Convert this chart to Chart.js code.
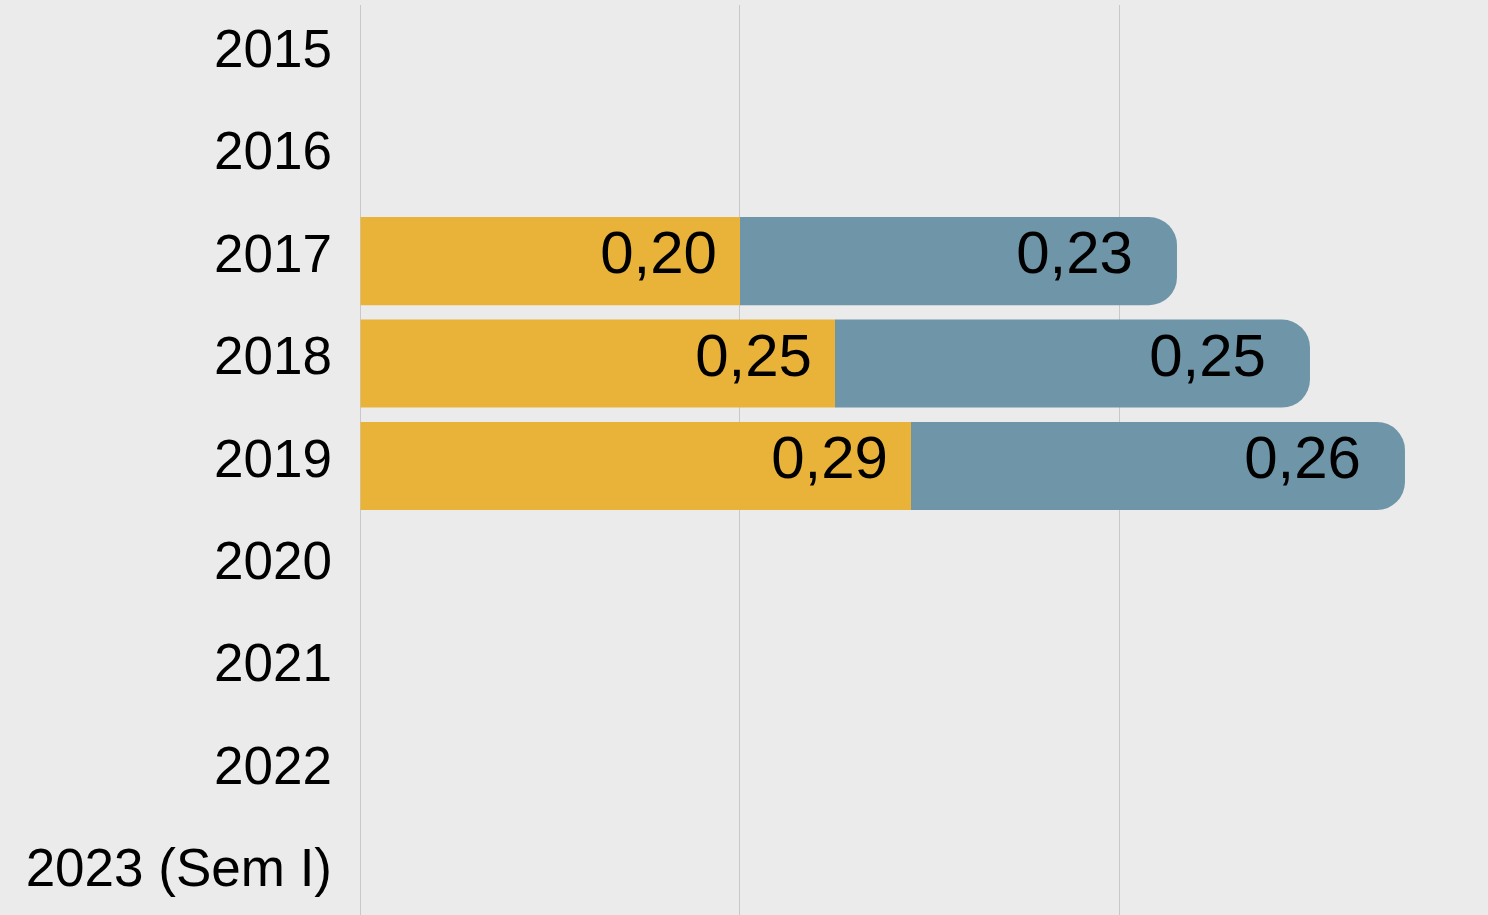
<!DOCTYPE html>
<html lang="pt">
<head>
<meta charset="UTF-8">
<title>Chart</title>
<script src="https://cdn.jsdelivr.net/npm/chart.js"></script>
<style>
  html, body { margin: 0; padding: 0; background: #EBEBEB; overflow: hidden; }
  #wrap { width: 1488px; height: 927px; }
</style>
</head>
<body>
<div id="wrap"><canvas id="chart"></canvas></div>
<script>
const years = ['2015', '2016', '2017', '2018', '2019', '2020', '2021', '2022', '2023 (Sem I)'];
const seriesA = [null, null, 0.20, 0.25, 0.29, null, null, null, null];
const seriesB = [null, null, 0.23, 0.25, 0.26, null, null, null, null];
const gridTicks = [0, 0.2, 0.4];

const fmt = v => v.toFixed(2).replace('.', ',');

// draws value labels at the inner end of each bar
const valueLabels = {
  id: 'valueLabels',
  afterDatasetsDraw(chart) {
    const ctx = chart.ctx;
    ctx.save();
    ctx.font = '60px "Liberation Sans", Arial, sans-serif';
    ctx.fillStyle = '#000';
    ctx.textAlign = 'right';
    ctx.textBaseline = 'middle';
    chart.data.datasets.forEach((ds, i) => {
      const pad = i === 0 ? 23 : 44;
      chart.getDatasetMeta(i).data.forEach((bar, j) => {
        const v = ds.data[j];
        if (v == null) return;
        ctx.fillText(fmt(v), bar.x - pad, bar.y - 4.5);
      });
    });
    ctx.restore();
  }
};

new Chart(document.getElementById('chart'), {
  type: 'bar',
  data: {
    labels: years,
    datasets: [
      { data: seriesA, backgroundColor: '#E9B33A', borderRadius: 0 },
      { data: seriesB, backgroundColor: '#6F95A8', borderRadius: 28, borderSkipped: 'start' }
    ]
  },
  options: {
    indexAxis: 'y',
    responsive: true,
    maintainAspectRatio: false,
    animation: false,
    layout: { padding: { top: 5, right: 0, bottom: 0, left: 0 } },
    datasets: { bar: { barPercentage: 0.86, categoryPercentage: 1 } },
    plugins: { legend: { display: false }, tooltip: { enabled: false } },
    scales: {
      x: {
        stacked: true,
        min: 0,
        max: 0.5937,
        afterBuildTicks: s => { s.ticks = gridTicks.map(v => ({ value: v })); },
        ticks: { display: false, includeBounds: false },
        grid: { color: '#C8C8C8', lineWidth: 1, drawTicks: false },
        border: { display: false },
        afterFit: s => { s.height = 0; s.paddingLeft = 0; s.paddingRight = 0; }
      },
      y: {
        stacked: true,
        grid: { display: false, drawTicks: false },
        border: { display: false },
        ticks: {
          color: '#000',
          padding: 28,
          labelOffset: -4,
          font: { size: 53, family: '"Liberation Sans", Arial, sans-serif' }
        },
        afterFit: s => { s.width = 360; s.paddingTop = 0; s.paddingBottom = 0; }
      }
    }
  },
  plugins: [valueLabels]
});
</script>
</body>
</html>
